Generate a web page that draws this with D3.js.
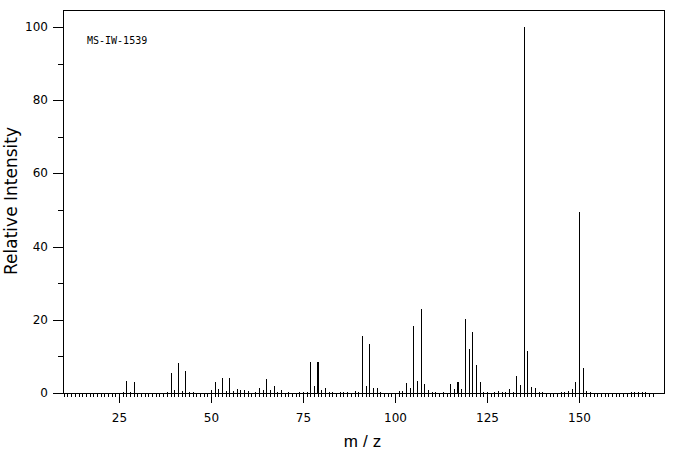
<!DOCTYPE html>
<html><head><meta charset="utf-8">
<script src="https://cdn.jsdelivr.net/npm/d3@7"></script>
<style>body{margin:0;background:#fff}svg{display:block}</style>
</head><body><svg id="c" width="676" height="455"></svg>
<script>
// ---- data ----
const mz = [26,27,28,29,38,39,40,41,42,43,44,45,50,51,52,53,54,55,56,57,58,59,60,62,63,64,65,66,67,68,69,71,74,75,76,77,78,79,80,81,82,83,85,86,87,89,90,91,92,93,94,95,96,101,102,103,104,105,106,107,108,109,110,111,113,115,116,117,118,119,120,121,122,123,124,125,127,128,129,130,131,132,133,134,135,136,137,138,139,140,145,146,147,148,149,150,151,152,153,164,165,166,167,168];
const intensity = [0.4,3.2,0.4,2.9,0.4,5.4,0.9,8.1,0.5,6.0,0.4,0.4,0.8,2.9,1.2,4.0,0.5,4.0,0.5,1.2,0.9,0.8,0.5,0.4,1.5,0.9,3.9,0.9,2.0,0.4,0.9,0.4,0.4,0.4,0.4,8.4,2.0,8.6,0.9,1.4,0.4,0.4,0.4,0.4,0.4,0.6,0.4,15.5,1.8,13.3,1.4,1.4,0.4,0.5,0.6,2.7,1.4,18.2,3.4,23.0,2.5,0.7,0.4,0.4,0.4,2.5,1.0,3.1,1.0,20.3,12.1,16.8,7.6,3.1,0.4,0.4,0.4,0.5,0.4,0.4,1.0,0.4,4.6,2.3,100,11.6,1.7,1.4,0.4,0.4,0.4,0.4,0.5,1.2,3.1,49.5,6.9,0.6,0.4,0.4,0.4,0.4,0.4,0.4];
const xMajorTicks = [25,50,75,100,125,150];
const yMajorTicks = [0,20,40,60,80,100];
const yMinorTicks = [10,30,50,70,90];
const sampleLabel = "MS-IW-1539";
const xTitle = "m/z";
const yTitle = "Relative Intensity";

// ---- layout / style ----
const L = 63, R = 664, T = 10, B = 393;
const thickPeaks = new Set([79,117]);
const font = "DejaVu Sans, sans-serif";

const svg = d3.select("#c");
const x = d3.scaleLinear().domain([25,150]).rangeRound([119,579]);
const y = d3.scaleLinear().domain([0,100]).rangeRound([B,27]);

// frame
svg.append("rect").attr("x",L+0.5).attr("y",T+0.5)
  .attr("width",R-L).attr("height",B-T)
  .attr("fill","none").attr("stroke","#000").attr("stroke-width",1);

// x minor ticks
const xMinor = d3.range(10,171).filter(d => !xMajorTicks.includes(d));
svg.append("g").attr("transform",`translate(0,${B})`)
  .call(d3.axisBottom(x).tickValues(xMinor).tickSize(4).tickFormat(""))
  .call(g => g.select(".domain").remove());
// x major ticks
svg.append("g").attr("transform",`translate(0,${B})`)
  .call(d3.axisBottom(x).tickValues(xMajorTicks).tickSize(10).tickPadding(10).tickFormat(d3.format("d")))
  .call(g => g.select(".domain").remove())
  .call(g => g.selectAll("text").attr("font-family",font).attr("font-size",12).attr("fill","#000"));

// y minor ticks
svg.append("g").attr("transform",`translate(${L},0)`)
  .call(d3.axisLeft(y).tickValues(yMinorTicks).tickSize(5).tickFormat(""))
  .call(g => g.select(".domain").remove());
// y major ticks
svg.append("g").attr("transform",`translate(${L},0)`)
  .call(d3.axisLeft(y).tickValues(yMajorTicks).tickSize(10).tickPadding(5).tickFormat(d3.format("d")))
  .call(g => g.select(".domain").remove())
  .call(g => g.selectAll("text").attr("font-family",font).attr("font-size",12).attr("fill","#000"));

// peaks
const peaks = mz.map((m,i) => ({m, v: intensity[i]}));
svg.append("g").selectAll("line").data(peaks).join("line")
  .attr("x1", d => thickPeaks.has(d.m) ? x(d.m) : x(d.m)+0.5)
  .attr("x2", d => thickPeaks.has(d.m) ? x(d.m) : x(d.m)+0.5)
  .attr("y1", B+0.5)
  .attr("y2", d => y(d.v))
  .attr("stroke","#000")
  .attr("stroke-width", d => thickPeaks.has(d.m) ? 2 : 1);

// sample label
svg.append("text").attr("x",87).attr("y",44)
  .attr("font-family","DejaVu Sans Mono, monospace").attr("font-size",10)
  .text(sampleLabel);

// axis titles
svg.append("text").attr("x",365).attr("y",447)
  .attr("text-anchor","middle")
  .attr("font-family","Liberation Sans, sans-serif").attr("font-size",17)
  .attr("letter-spacing",5)
  .text(xTitle);
svg.append("text")
  .attr("transform","translate(16.5,201) rotate(-90)")
  .attr("text-anchor","middle")
  .attr("font-family",font).attr("font-size",17)
  .text(yTitle);
</script>
</body></html>
